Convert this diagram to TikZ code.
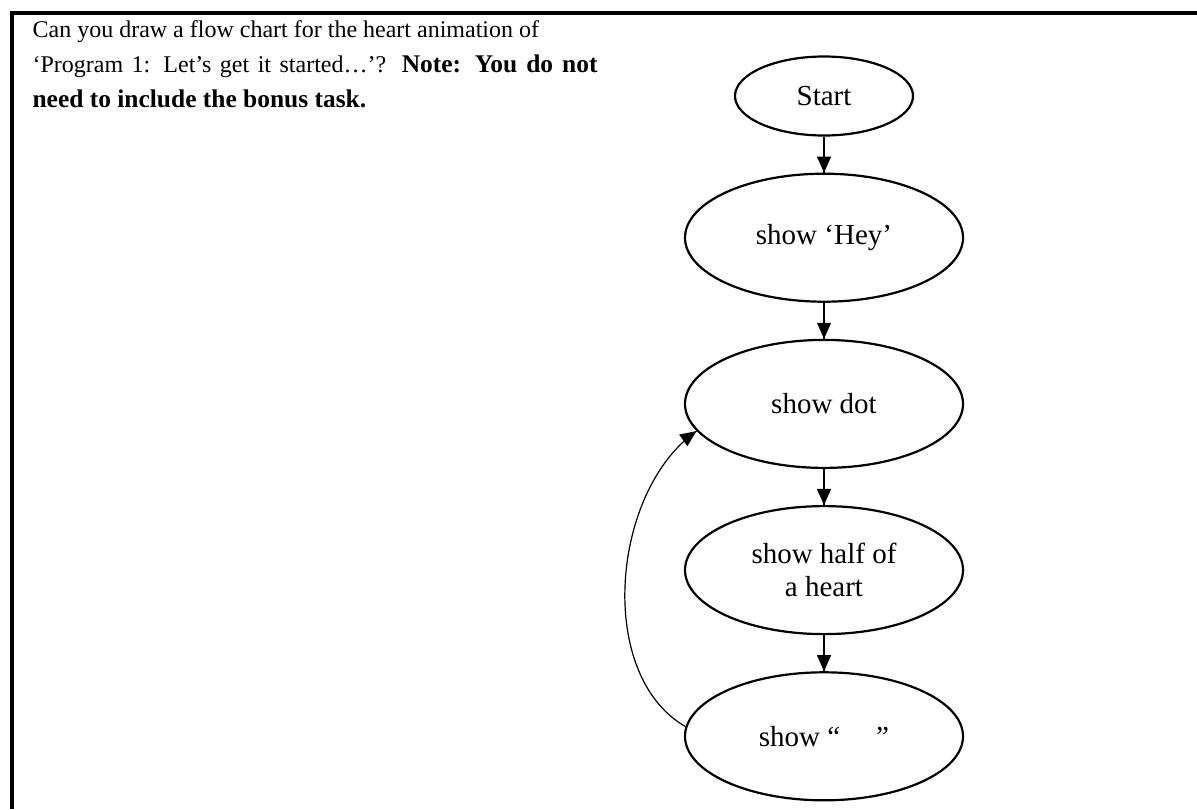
\documentclass[tikz,border=0pt]{standalone}
\usepackage{fontspec}
\setmainfont{Liberation Serif}[BoldFeatures={Scale=1.06}]
\usetikzlibrary{arrows.meta}
\usetikzlibrary{decorations.markings}
\usetikzlibrary{positioning}
\usetikzlibrary{shapes.geometric}
\tikzset{->/.style = {decoration={markings,
                                  mark=at position 0.999 with {\arrow{Triangle[length=8pt,width=7pt]}}},
                      postaction={decorate}}}
\tikzset{action/.style = {draw, ellipse, line width=1.1pt, minimum width=139pt,
                          minimum height=64pt, align=center,
                          font=\fontsize{14.5}{16.5}\selectfont}}
\tikzset{task/.style = {inner sep=0, align=left, font=\fontsize{12}{17.5}\selectfont}}

\begin{document}
\begin{tikzpicture}[line width=0.6pt]
      \useasboundingbox (0,0) rectangle (598.5pt,-404.5pt);
      \draw [line width=2pt] (6pt,-404.5pt) |- (598.5pt,-6.5pt);

      \node [task, anchor=base west] (question) at (16pt,-53.5pt)
            {Can you draw a flow chart for the heart animation of\\
             \makebox[282.5pt][s]{‘Program 1: Let’s get it started…’? \textbf{Note: You do not}}\\
             \textbf{need to include the bonus task.}};

      \node [action, minimum width=89pt, minimum height=39.5pt] (start) at (412pt,-48pt) {Start};
      \node [action, below=18pt of start] (hey) {show ‘Hey’};
      \node [action, below=18pt of hey] (dot) {show dot};
      \node [action, below=18pt of dot] (half) {show half of\\a heart};
      \node [action, below=18pt of half] (blank) {show “\hspace{18pt}”};

      \draw [->] (start) -- (hey);
      \draw [->] (hey) -- (dot);
      \draw [->] (dot) -- (half);
      \draw [->] (half) -- (blank);
      \draw [->] (blank.176) to [out=150, in=215, looseness=0.9] (dot.192);
    \end{tikzpicture}
\end{document}
